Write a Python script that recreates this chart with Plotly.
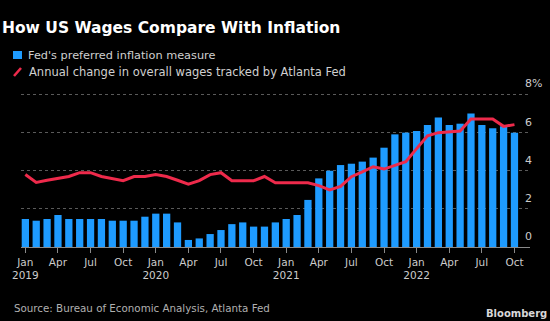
import plotly.graph_objects as go

months = [f"{y}-{m:02d}" for y in range(2019, 2023) for m in range(1, 13)][:46]

pce_inflation = [1.47, 1.38, 1.47, 1.68, 1.47, 1.47, 1.47, 1.47, 1.38, 1.38, 1.38, 1.59,
                 1.75, 1.75, 1.29, 0.37, 0.45, 0.68, 0.89, 1.20, 1.29, 1.07, 1.07, 1.29,
                 1.47, 1.68, 2.47, 3.60, 4.00, 4.30, 4.37, 4.48, 4.69, 5.21, 5.91, 6.00,
                 6.09, 6.40, 6.79, 6.40, 6.47, 7.00, 6.40, 6.23, 6.33, 6.00]

wage_growth = [3.80, 3.39, 3.50, 3.60, 3.70, 3.90, 3.90, 3.70, 3.60, 3.48, 3.70, 3.70,
               3.80, 3.70, 3.50, 3.30, 3.48, 3.80, 3.90, 3.48, 3.48, 3.48, 3.70, 3.37,
               3.37, 3.37, 3.37, 3.22, 2.99, 3.18, 3.69, 3.94, 4.21, 4.09, 4.30, 4.48,
               5.16, 5.83, 6.00, 6.04, 6.09, 6.72, 6.72, 6.72, 6.33, 6.42]

tick_months = months[::3]
tick_labels = []
for m in tick_months:
    y, mo = m.split("-")
    name = {"01": "Jan", "04": "Apr", "07": "Jul", "10": "Oct"}[mo]
    tick_labels.append(f"{name}<br>{y}" if mo == "01" else name)

y_tickvals = [0, 2, 4, 6, 8]
y_ticktext = ["0", "2", "4", "6", "8%"]

BLUE = "#1e9bff"
RED = "#ee2a4b"
FONT = "DejaVu Sans"

fig = go.Figure()
fig.add_trace(go.Bar(x=months, y=pce_inflation, marker=dict(color=BLUE, line=dict(width=0)),
                     name="Fed's preferred inflation measure"))
fig.add_trace(go.Scatter(x=months, y=wage_growth, mode="lines",
                         line=dict(color=RED, width=3),
                         name="Annual change in overall wages tracked by Atlanta Fed"))

fig.update_layout(
    width=550, height=321,
    margin=dict(l=21, r=20, t=85, b=74),
    paper_bgcolor="#000000", plot_bgcolor="#000000",
    showlegend=False,
    bargap=0.33,
    font=dict(family=FONT, color="#cccccc", size=11),
    xaxis=dict(
        type="category", range=[-0.4, 46.43], automargin=False,
        tickmode="array", tickvals=tick_months, ticktext=tick_labels,
        showgrid=False, showline=True, linecolor="#8a8a8a", linewidth=1,
        ticks="outside", ticklen=5, tickcolor="#8a8a8a", tickwidth=1,
        tickfont=dict(family=FONT, size=10.5, color="#cccccc"),
        zeroline=False,
    ),
    yaxis=dict(
        range=[0, 8.5], side="right", automargin=False,
        tickmode="array", tickvals=y_tickvals, ticktext=y_ticktext,
        showgrid=True, gridcolor="#5a5a5a", griddash="dot", gridwidth=1,
        zeroline=False, showline=False, ticks="",
        ticklabelshift=-11, ticklabelstandoff=-6,
        tickfont=dict(family=FONT, size=11, color="#cccccc"),
    ),
)

fig.add_annotation(text="<b>How US Wages Compare With Inflation</b>", xref="paper", yref="paper",
                   x=-21/509, y=1 + (85 - 28) / 162, xanchor="left", yanchor="middle",
                   showarrow=False, font=dict(family=FONT, size=15.5, color="#ffffff"))
fig.add_annotation(text="Fed's preferred inflation measure", xref="paper", yref="paper",
                   x=(26 - 21) / 509, y=1 + (85 - 55.5) / 162, xanchor="left", yanchor="middle",
                   showarrow=False, font=dict(family=FONT, size=11.3, color="#d0d0d0"))
fig.add_annotation(text="Annual change in overall wages tracked by Atlanta Fed", xref="paper", yref="paper",
                   x=(27 - 21) / 509, y=1 + (85 - 72) / 162, xanchor="left", yanchor="middle",
                   showarrow=False, font=dict(family=FONT, size=11.5, color="#d0d0d0"))
fig.add_annotation(text="Source: Bureau of Economic Analysis, Atlanta Fed", xref="paper", yref="paper",
                   x=(12 - 21) / 509, y=-(308 - 247) / 162, xanchor="left", yanchor="middle",
                   showarrow=False, font=dict(family=FONT, size=10.3, color="#b0b0b0"))
fig.add_annotation(text="<b>Bloomberg</b>", xref="paper", yref="paper",
                   x=(549 - 21) / 509, y=-(313 - 247) / 162, xanchor="right", yanchor="middle",
                   showarrow=False, font=dict(family=FONT, size=10, color="#d8d8d8"))

# legend glyphs
fig.add_shape(type="rect", xref="paper", yref="paper",
              x0=(13 - 21) / 509, x1=(22 - 21) / 509,
              y0=1 + (85 - 59) / 162, y1=1 + (85 - 51) / 162,
              fillcolor=BLUE, line=dict(width=0))
fig.add_shape(type="line", xref="paper", yref="paper",
              x0=(14 - 21) / 509, x1=(21 - 21) / 509,
              y0=1 + (85 - 76) / 162, y1=1 + (85 - 68) / 162,
              line=dict(color=RED, width=2.5))

fig.write_html("out.html")
